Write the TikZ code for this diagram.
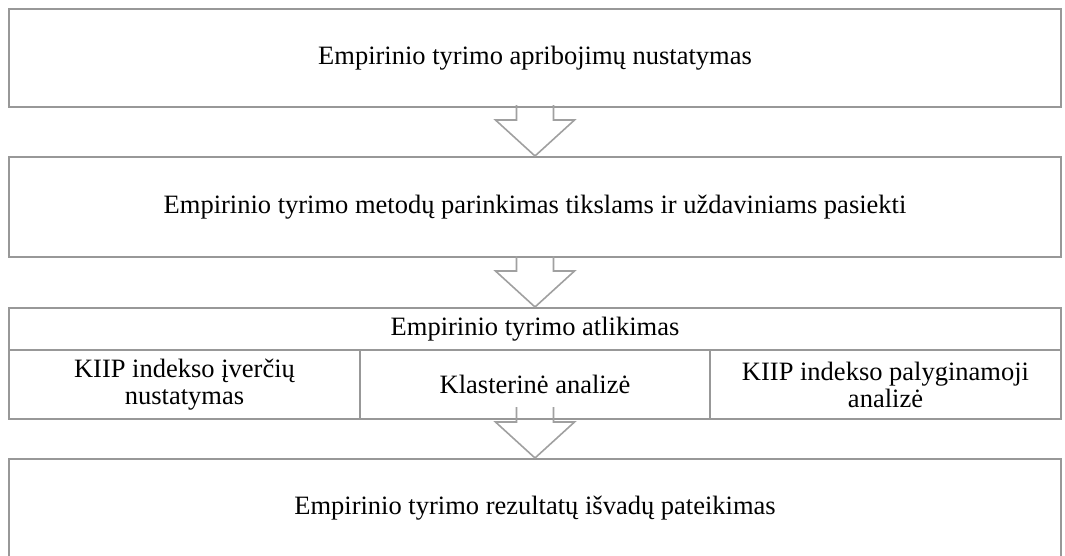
\documentclass[tikz,border=0pt]{standalone}
\usepackage{fontspec}
\setmainfont{Liberation Serif}
\usetikzlibrary{calc}
\definecolor{boxgray}{RGB}{152,152,152}
\definecolor{arrgray}{RGB}{160,160,160}
\newcommand\hollowarrow[1]{%
  \draw[arr] ($(#1.north)+(-18.5,-51)$) -- ++(0,15) -- ++(-21,0) -- (#1.north)
    -- ($(#1.north)+(39.5,-36)$) -- ++(-21,0) -- ++(0,-15);}
\begin{document}
\begin{tikzpicture}[x=1pt,y=-1pt,
  box/.style={draw=boxgray,line width=2pt,inner sep=0pt,anchor=north west,
    align=center,font=\fontsize{26.5}{27}\selectfont},
  arr/.style={draw=arrgray,line width=1.6pt,line join=miter}]
  \useasboundingbox (0,0) rectangle (1065,555);
  \clip (0,0) rectangle (1065,555);

  \node[box,minimum width=1052pt,minimum height=98pt] (b1) at (8,8)
    {Empirinio tyrimo apribojimų nustatymas};
  \node[box,minimum width=1052pt,minimum height=100pt] (b2) at (8,156)
    {Empirinio tyrimo metodų parinkimas tikslams ir uždaviniams pasiekti};

  \node[box,minimum width=1052pt,minimum height=42pt] (b3) at (8,307)
    {Empirinio tyrimo atlikimas};
  \node[box,minimum width=351pt,minimum height=69pt] (b3a) at (8,349)
    {KIIP indekso įverčių\\nustatymas};
  \node[box,minimum width=350pt,minimum height=69pt] (b3b) at (359,349)
    {Klasterinė analizė};
  \node[box,minimum width=351pt,minimum height=69pt] (b3c) at (709,349)
    {KIIP indekso palyginamoji\\analizė};

  \node[box,minimum width=1052pt,minimum height=98pt] (b4) at (8,458)
    {Empirinio tyrimo rezultatų išvadų pateikimas};

  \hollowarrow{b2}
  \hollowarrow{b3}
  \hollowarrow{b4}
\end{tikzpicture}
\end{document}
